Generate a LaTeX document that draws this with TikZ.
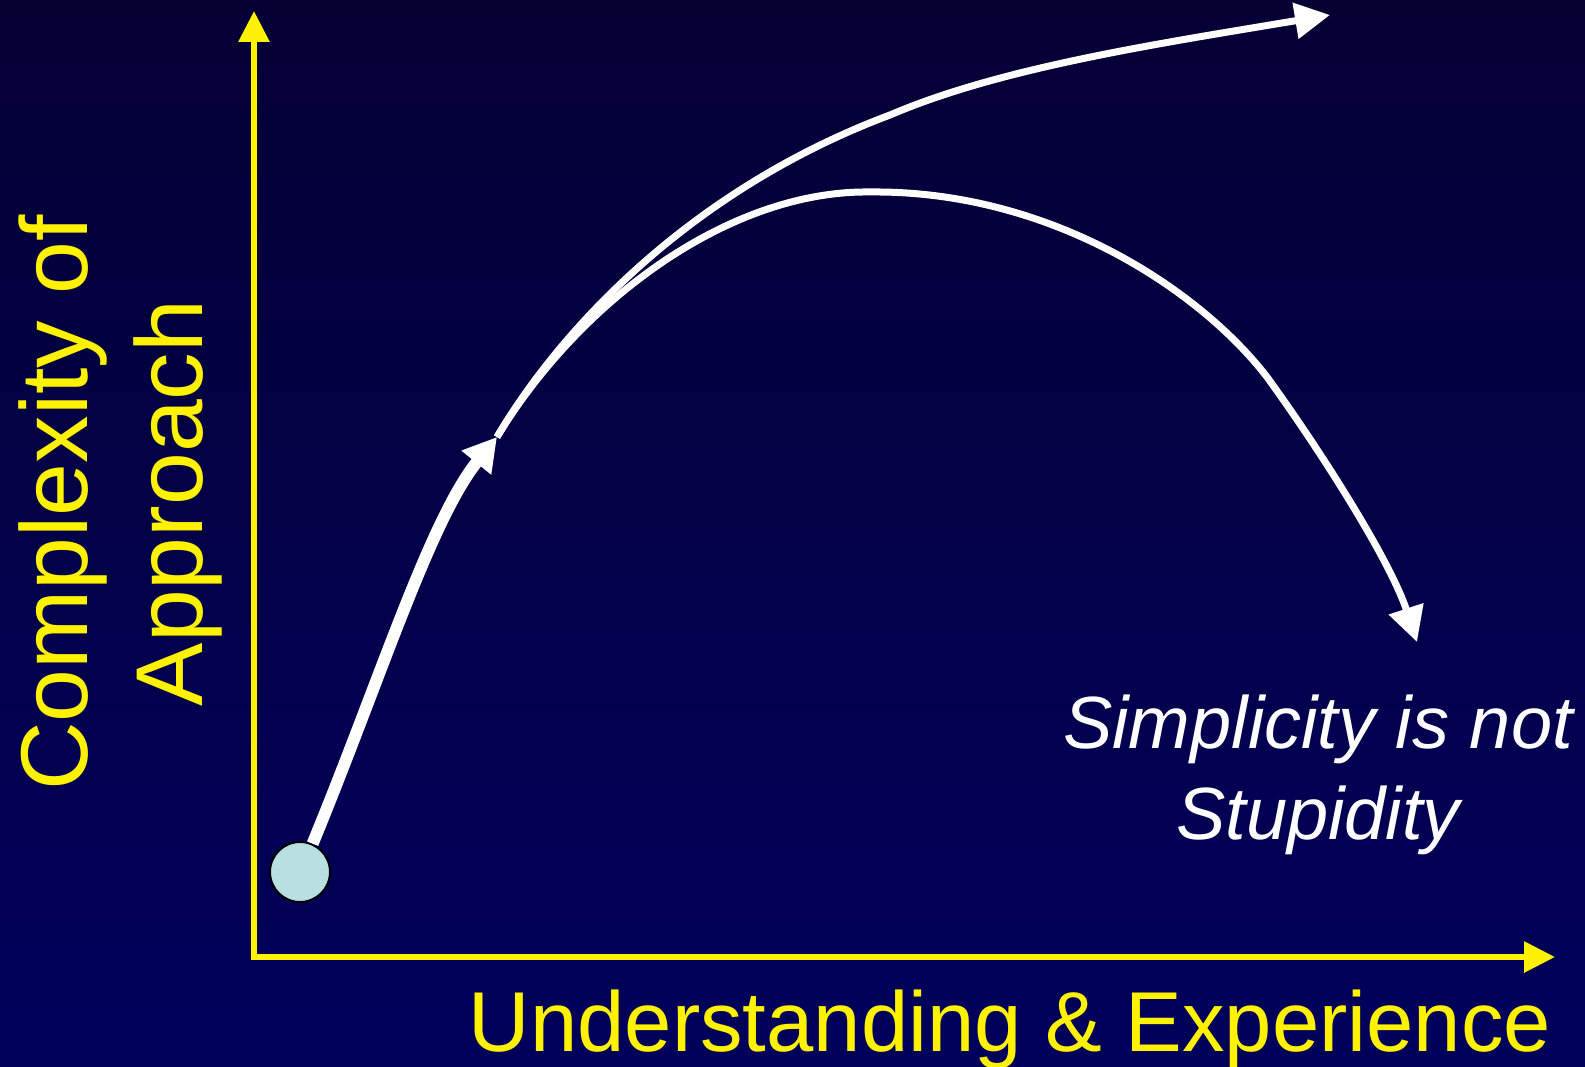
\documentclass[tikz,border=0pt]{standalone}
\usepackage{fontspec}
\setmainfont{Liberation Sans}
\usetikzlibrary{arrows.meta}
\definecolor{bgtop}{RGB}{5,0,52}
\definecolor{bgbot}{RGB}{0,0,92}
\definecolor{dotfill}{RGB}{186,223,226}
\begin{document}
\begin{tikzpicture}[x=1pt,y=-1pt,
  axisline/.style={draw=yellow,line width=6pt,line join=miter,
    {Triangle[length=31pt,width=30pt]}-{Triangle[length=31pt,width=30pt]}},
  wcurve/.style={draw=white,line width=7pt,-{Triangle[length=35pt,width=35pt]}},
  wthick/.style={draw=white,line width=12pt,-{Triangle[length=33pt,width=36pt]}},
  ylabel/.style={text=yellow,inner sep=0pt,font=\fontsize{95pt}{114pt}\selectfont},
  xlabel/.style={text=yellow,inner sep=0pt,font=\fontsize{85pt}{100pt}\selectfont},
  note/.style={text=white,inner sep=0pt,font=\fontsize{74pt}{90pt}\selectfont\itshape}]
\useasboundingbox (0,0) rectangle (1585,1067);
\shade[top color=bgtop,bottom color=bgbot] (0,0) rectangle (1585,1067);

% axes
\coordinate (ytip) at (254,11);
\coordinate (corner) at (254,957);
\coordinate (xtip) at (1555,957);
\draw[axisline] (ytip) -- (corner) -- (xtip);

% start dot
\node[circle,minimum size=60pt,inner sep=0pt,fill=dotfill,draw=black,line width=2pt] (start) at (300,872) {};

\coordinate (branch) at (497,437);
\coordinate (uppermid) at (890,115);
\coordinate (lowtop) at (870,192);
\coordinate (lowmid) at (1267,377);
\coordinate (topend) at (1330,15);
\coordinate (lowend) at (1417,642);

\draw[wthick] (start.66) .. controls (380,680) and (430,520) .. (branch);

\draw[wcurve] (branch) .. controls (560,330) and (690,190) .. (uppermid)
  .. controls (1000,68) and (1150,45) .. (topend);

\draw[wcurve] (branch) .. controls (580,300) and (730,190) .. (lowtop)
  .. controls (1050,190) and (1200,290) .. (lowmid)
  .. controls (1320,450) and (1390,560) .. (lowend);

% labels
\node[ylabel,rotate=90,anchor=base] (yl1) at (87,503) {Complexity of};
\node[ylabel,rotate=90,anchor=base] (yl2) at (202,503) {Approach};
\node[xlabel,anchor=base] (xl) at (1010,1051) {Understanding \& Experience};
\node[note,anchor=base] (s1) at (1318,748) {Simplicity is not};
\node[note,anchor=base] (s2) at (1318,839) {Stupidity};
\end{tikzpicture}
\end{document}
